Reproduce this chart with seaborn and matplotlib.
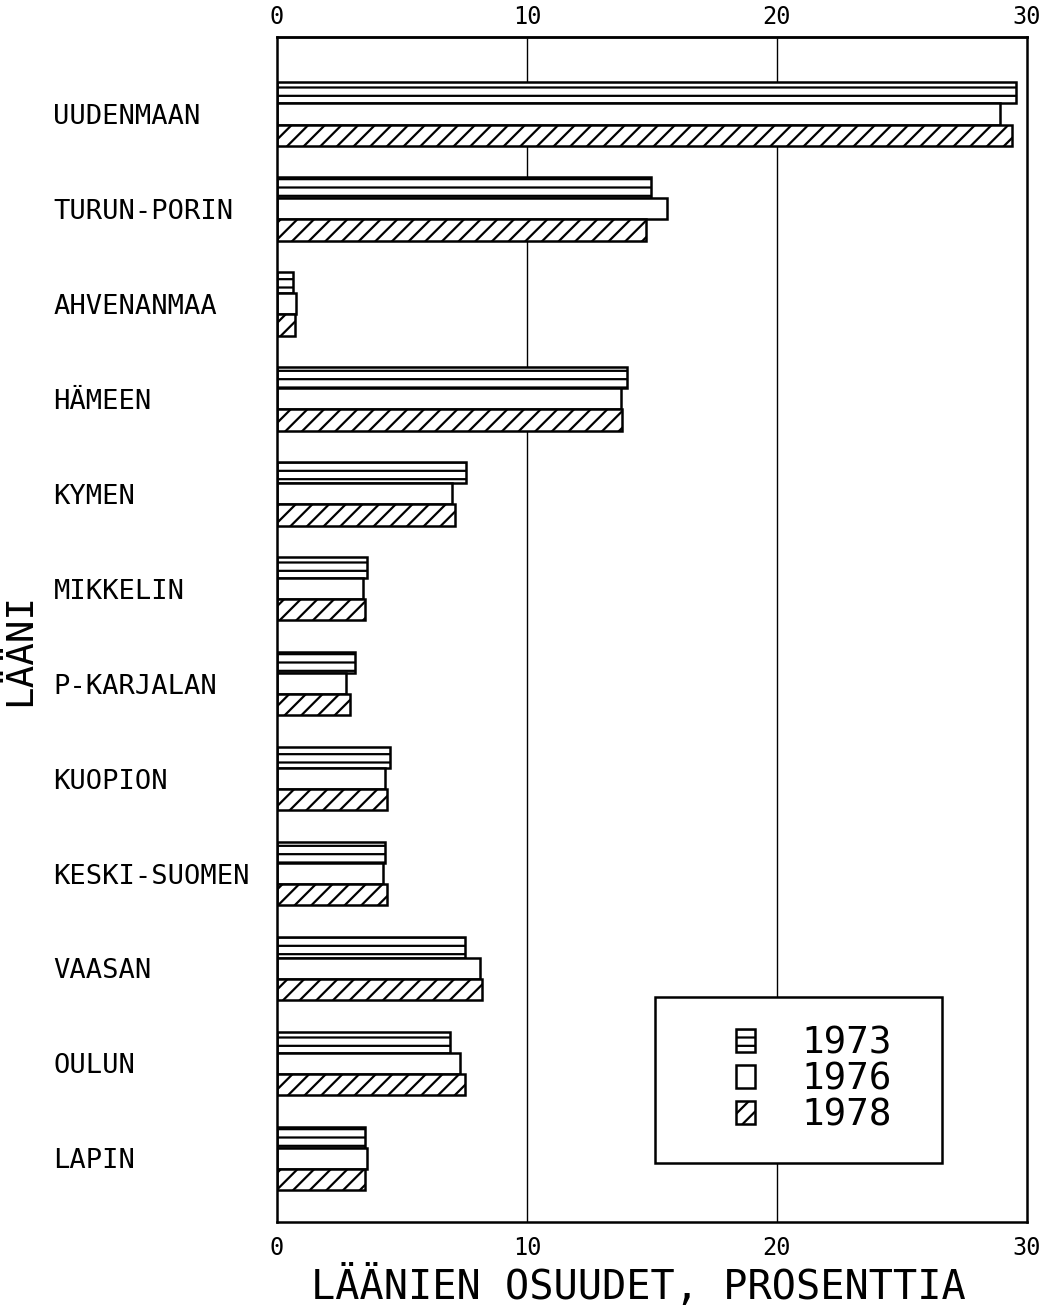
# Import libraries
import pandas as pd
import numpy as np
import matplotlib
matplotlib.use('Agg')
import matplotlib.pyplot as plt
from matplotlib.patches import Rectangle
import seaborn as sns

# 1. Data
laanit = ['UUDENMAAN', 'TURUN-PORIN', 'AHVENANMAA', 'HÄMEEN', 'KYMEN', 'MIKKELIN',
          'P-KARJALAN', 'KUOPION', 'KESKI-SUOMEN', 'VAASAN', 'OULUN', 'LAPIN']
years = ['1973', '1976', '1978']
osuus_1973 = [29.55, 14.95, 0.65, 14.0, 7.55, 3.6, 3.1, 4.5, 4.3, 7.5, 6.9, 3.5]
osuus_1976 = [28.9, 15.6, 0.75, 13.75, 7.0, 3.45, 2.75, 4.3, 4.25, 8.1, 7.3, 3.6]
osuus_1978 = [29.4, 14.75, 0.7, 13.8, 7.1, 3.5, 2.9, 4.4, 4.4, 8.2, 7.5, 3.5]
x_ticks = [0, 10, 20, 30]
hatches = ['--', '', '//']

# Long format for seaborn
df = pd.DataFrame({
    'laani': laanit * 3,
    'vuosi': np.repeat(years, len(laanit)),
    'osuus': osuus_1973 + osuus_1976 + osuus_1978,
})

# 2. Style
sns.set_style('white')
plt.rcParams['font.family'] = ['DejaVu Sans Mono', 'DejaVu Sans']
plt.rcParams['text.color'] = 'black'
plt.rcParams['axes.labelcolor'] = 'black'
plt.rcParams['xtick.color'] = 'black'
plt.rcParams['ytick.color'] = 'black'
plt.rcParams['hatch.linewidth'] = 1.6
plt.rcParams['hatch.color'] = 'black'

fig, ax = plt.subplots(figsize=(10.44, 13.07), dpi=100)
fig.subplots_adjust(left=277 / 1044, right=1027 / 1044, top=1 - 37 / 1307, bottom=1 - 1222 / 1307)

# 3. Bars
sns.barplot(data=df, x='osuus', y='laani', hue='vuosi', hue_order=years, order=laanit,
            orient='h', width=0.67, palette=['white'] * 3, saturation=1,
            edgecolor='black', linewidth=1.8, ax=ax)

for cont, h in zip(ax.containers, hatches):
    for bar in cont.patches:
        bar.set_hatch(h)

# 4. Axes
ax.set_xlim(0, 30)
ax.set_ylim(11.67, -0.81)
ax.set_xticks(x_ticks)
ax.set_xticklabels([str(t) for t in x_ticks], fontsize=17)
ax.tick_params(axis='x', length=0, pad=10)
ax.set_yticks(range(len(laanit)))
ax.set_yticklabels(laanit, fontsize=19.5, ha='left')
ax.tick_params(axis='y', length=0, pad=161)

for s in ax.spines.values():
    s.set_linewidth(1.8)
    s.set_color('black')

ax.set_axisbelow(True)
for gx in x_ticks[1:-1]:
    ax.axvline(gx, color='black', linewidth=1.0, zorder=0)

top = ax.secondary_xaxis('top')
top.set_xticks(x_ticks)
top.set_xticklabels([str(t) for t in x_ticks], fontsize=17)
top.tick_params(axis='x', length=0, pad=6)
top.spines['top'].set_linewidth(1.8)

ax.set_xlabel('LÄÄNIEN OSUUDET, PROSENTTIA', fontsize=29, labelpad=4)
ax.xaxis.label.set_x(0.482)
ax.set_ylabel('LÄÄNI', fontsize=27)
ax.yaxis.set_label_coords(-0.318, 0.483)

# 5. Legend
ax.legend_.remove()
ax.add_patch(Rectangle((0.504, 0.05), 0.383, 0.14, transform=ax.transAxes,
                       facecolor='white', edgecolor='black', linewidth=1.8, zorder=4))
leg = ax.legend(ax.containers, years, loc='center', bbox_to_anchor=(0.716, 0.12),
                frameon=False, fontsize=27, handlelength=0.5, handleheight=0.6,
                handletextpad=1.25, labelspacing=0.0, borderpad=0)
leg.set_zorder(6)

plt.savefig('out.png', dpi=100)
